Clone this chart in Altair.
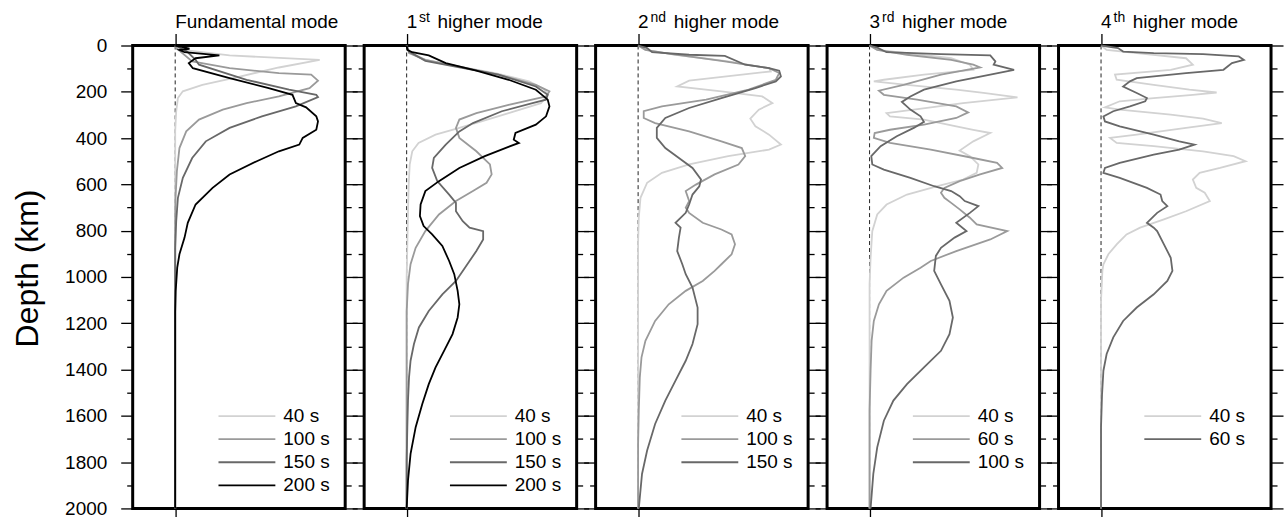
import altair as alt
import pandas as pd

FONT = "Liberation Sans"
LIGHT, MID, DARK, BLACK = "#d2d2d2", "#9a9a9a", "#686868", "#000000"

# ---------------- Fundamental mode ----------------
F40_D = [0, 19, 43, 62, 95, 134, 170, 198, 227, 284, 370, 2000]
F40_V = [0, 0.045, 0.32, 0.85, 0.61, 0.38, 0.16, 0.045, 0.016, 0.006, 0, 0]
F100_D = [0, 11, 69, 98, 119, 126, 152, 184, 220, 249, 277, 320, 371, 443, 543, 658, 800, 2000]
F100_V = [0, 0.006, 0.10, 0.32, 0.61, 0.80, 0.84, 0.79, 0.61, 0.42, 0.28, 0.14, 0.065, 0.025, 0.01, 0.002, 0, 0]
F150_D = [0, 26, 62, 83, 148, 191, 213, 223, 263, 306, 356, 414, 486, 572, 658, 759, 874, 2000]
F150_V = [0, 0.07, 0.12, 0.14, 0.42, 0.67, 0.83, 0.84, 0.71, 0.51, 0.32, 0.18, 0.10, 0.045, 0.016, 0.006, 0, 0]
F200_D = [0, 7, 14, 19, 29, 43, 55, 76, 98, 141, 184, 213, 249, 267, 306, 328, 364, 399, 428, 457,
          500, 557, 615, 687, 766, 830, 902, 960, 1060, 1150, 2000]
F200_V = [0, 0.045, 0.084, 0.025, 0.055, 0.26, 0.12, 0.08, 0.104, 0.32, 0.55, 0.69, 0.71, 0.77, 0.83, 0.84,
          0.83, 0.75, 0.73, 0.61, 0.48, 0.32, 0.22, 0.12, 0.074, 0.055, 0.025, 0.012, 0.003, 0, 0]

# ---------------- 1st higher mode ----------------
H1_40_D = [0, 26, 62, 91, 119, 155, 190, 213, 249, 292, 328, 356, 385, 421, 457, 514, 600, 720, 860, 1000, 2000]
H1_40_V = [0, 0.014, 0.11, 0.31, 0.52, 0.72, 0.81, 0.83, 0.79, 0.60, 0.44, 0.31, 0.17, 0.07, 0.033, 0.018,
           0.012, 0.008, 0.004, 0, 0]
H1_100_D = [0, 33, 62, 91, 126, 170, 198, 220, 256, 292, 320, 356, 399, 457, 514, 557, 593, 629, 672, 730,
            802, 874, 945, 1030, 1150, 2000]
H1_100_V = [0, 0.014, 0.11, 0.31, 0.54, 0.76, 0.84, 0.82, 0.60, 0.41, 0.31, 0.29, 0.31, 0.41, 0.49, 0.50,
            0.47, 0.39, 0.29, 0.19, 0.11, 0.053, 0.023, 0.008, 0, 0]
H1_150_D = [0, 26, 66, 95, 126, 177, 213, 234, 249, 284, 335, 371, 428, 486, 529, 586, 644, 680, 716, 759,
            787, 802, 838, 888, 931, 974, 1017, 1075, 1147, 1218, 1290, 1362, 1434, 1534, 1649, 1793, 2000]
H1_150_V = [0, 0.014, 0.11, 0.31, 0.54, 0.76, 0.83, 0.82, 0.74, 0.56, 0.39, 0.31, 0.23, 0.16, 0.15, 0.18,
            0.25, 0.29, 0.29, 0.33, 0.37, 0.45, 0.45, 0.41, 0.37, 0.33, 0.29, 0.21, 0.13, 0.072, 0.043, 0.023,
            0.014, 0.008, 0.004, 0, 0]
H1_200_D = [0, 19, 29, 43, 76, 109, 148, 191, 234, 263, 306, 342, 378, 407, 421, 443, 478, 529, 586, 629,
            687, 737, 780, 816, 866, 931, 988, 1060, 1118, 1175, 1247, 1319, 1391, 1463, 1549, 1649, 1764,
            1879, 2000]
H1_200_V = [0, 0.004, 0.033, 0.13, 0.23, 0.41, 0.60, 0.76, 0.83, 0.84, 0.82, 0.76, 0.64, 0.63, 0.66, 0.58,
            0.46, 0.31, 0.19, 0.11, 0.082, 0.078, 0.10, 0.15, 0.21, 0.25, 0.28, 0.30, 0.31, 0.30, 0.27, 0.22,
            0.17, 0.13, 0.092, 0.053, 0.023, 0.008, 0]

# ---------------- 2nd higher mode ----------------
H2_40_D = [0, 19, 40, 69, 98, 112, 152, 177, 198, 220, 249, 277, 316, 349, 385, 428, 450, 478, 514, 550,
           593, 658, 744, 850, 2000]
H2_40_V = [0, 0.043, 0.22, 0.53, 0.77, 0.78, 0.30, 0.23, 0.49, 0.73, 0.79, 0.71, 0.66, 0.69, 0.77, 0.84,
           0.77, 0.53, 0.30, 0.14, 0.053, 0.014, 0.004, 0, 0]
H2_100_D = [0, 19, 37, 66, 98, 119, 148, 191, 234, 263, 284, 313, 335, 371, 414, 443, 478, 514, 557, 601,
            629, 672, 701, 723, 766, 795, 816, 859, 902, 945, 974, 1017, 1060, 1118, 1190, 1276, 1347, 1434,
            1578, 1721, 2000]
H2_100_V = [0, 0.043, 0.20, 0.49, 0.77, 0.83, 0.81, 0.65, 0.40, 0.14, 0.033, 0.033, 0.10, 0.30, 0.49, 0.61,
            0.63, 0.59, 0.45, 0.34, 0.28, 0.30, 0.28, 0.30, 0.38, 0.49, 0.55, 0.57, 0.55, 0.49, 0.45, 0.38,
            0.28, 0.18, 0.10, 0.043, 0.02, 0.01, 0.004, 0, 0]
H2_150_D = [0, 11, 29, 40, 45, 83, 98, 109, 134, 155, 184, 227, 270, 313, 356, 399, 443, 486, 529, 579,
            608, 644, 687, 723, 766, 787, 830, 888, 945, 988, 1046, 1132, 1204, 1290, 1362, 1448, 1534, 1635,
            1750, 1851, 2000]
H2_150_V = [0, 0.053, 0.082, 0.30, 0.51, 0.63, 0.77, 0.83, 0.84, 0.81, 0.69, 0.49, 0.30, 0.16, 0.11, 0.11,
            0.16, 0.24, 0.32, 0.37, 0.36, 0.32, 0.30, 0.28, 0.22, 0.25, 0.24, 0.23, 0.26, 0.28, 0.32, 0.35,
            0.35, 0.32, 0.28, 0.22, 0.16, 0.10, 0.053, 0.023, 0.004]

# ---------------- 3rd higher mode ----------------
H3_40_D = [0, 19, 33, 55, 83, 105, 126, 148, 155, 170, 191, 205, 224, 249, 277, 292, 306, 320, 349, 364,
           378, 414, 454, 478, 514, 550, 579, 608, 644, 687, 730, 802, 917, 1032, 2000]
H3_40_V = [0, 0.045, 0.22, 0.48, 0.59, 0.61, 0.32, 0.084, 0.025, 0.22, 0.51, 0.67, 0.87, 0.55, 0.26, 0.10,
           0.12, 0.32, 0.51, 0.61, 0.71, 0.61, 0.53, 0.59, 0.64, 0.63, 0.55, 0.40, 0.22, 0.10, 0.045, 0.016,
           0.006, 0, 0]
H3_60_D = [0, 19, 40, 62, 83, 95, 126, 170, 195, 213, 234, 263, 289, 313, 342, 364, 378, 399, 421, 450,
           486, 507, 529, 557, 586, 615, 636, 658, 680, 708, 744, 773, 802, 838, 888, 931, 960, 1003, 1060,
           1118, 1190, 1276, 1405, 1578, 2000]
H3_60_V = [0, 0.045, 0.22, 0.48, 0.61, 0.65, 0.42, 0.20, 0.055, 0.084, 0.28, 0.51, 0.58, 0.51, 0.32, 0.12,
           0.03, 0.025, 0.12, 0.36, 0.61, 0.75, 0.78, 0.65, 0.53, 0.44, 0.42, 0.44, 0.48, 0.53, 0.59, 0.63,
           0.81, 0.71, 0.51, 0.36, 0.30, 0.20, 0.10, 0.055, 0.025, 0.012, 0.006, 0, 0]
H3_100_D = [0, 9, 29, 37, 43, 69, 83, 105, 126, 155, 191, 220, 244, 277, 306, 330, 356, 392, 435, 478,
            514, 536, 572, 608, 629, 651, 672, 694, 723, 766, 802, 830, 874, 909, 974, 1032, 1103, 1175,
            1247, 1319, 1391, 1463, 1534, 1621, 1736, 1851, 2000]
H3_100_V = [0, 0.045, 0.10, 0.42, 0.71, 0.74, 0.73, 0.85, 0.71, 0.51, 0.32, 0.24, 0.19, 0.24, 0.30, 0.32,
            0.26, 0.16, 0.065, 0.01, 0.016, 0.084, 0.24, 0.38, 0.48, 0.53, 0.56, 0.64, 0.59, 0.51, 0.57,
            0.50, 0.42, 0.39, 0.38, 0.42, 0.47, 0.49, 0.47, 0.42, 0.32, 0.22, 0.14, 0.084, 0.045, 0.022,
            0.006]

# ---------------- 4th higher mode ----------------
H4_40_D = [0, 19, 33, 55, 83, 105, 126, 148, 170, 191, 203, 213, 227, 241, 267, 277, 299, 316, 335, 356,
           385, 399, 421, 435, 457, 478, 500, 529, 550, 579, 615, 636, 672, 716, 751, 787, 816, 859, 902,
           945, 974, 1100, 2000]
H4_40_V = [0, 0.033, 0.21, 0.50, 0.54, 0.41, 0.082, 0.092, 0.31, 0.52, 0.68, 0.54, 0.31, 0.11, 0.023, 0.11,
           0.41, 0.60, 0.71, 0.50, 0.21, 0.053, 0.092, 0.31, 0.60, 0.78, 0.85, 0.70, 0.58, 0.54, 0.56, 0.61,
           0.64, 0.50, 0.37, 0.23, 0.15, 0.092, 0.043, 0.014, 0.008, 0, 0]
H4_60_D = [0, 11, 26, 33, 37, 47, 62, 76, 105, 119, 141, 155, 177, 205, 227, 241, 263, 284, 306, 328,
           349, 385, 414, 428, 450, 471, 507, 529, 550, 572, 615, 644, 672, 694, 723, 766, 787, 802, 859,
           917, 974, 1017, 1075, 1132, 1190, 1261, 1333, 1405, 1506, 1649, 2000]
H4_60_V = [0, 0.10, 0.13, 0.31, 0.60, 0.81, 0.84, 0.77, 0.72, 0.50, 0.21, 0.17, 0.13, 0.21, 0.27, 0.26,
           0.17, 0.072, 0.014, 0.023, 0.11, 0.31, 0.46, 0.55, 0.46, 0.31, 0.11, 0.023, 0.014, 0.11, 0.27,
           0.35, 0.36, 0.39, 0.33, 0.27, 0.31, 0.33, 0.37, 0.41, 0.42, 0.39, 0.31, 0.21, 0.13, 0.072, 0.033,
           0.014, 0.006, 0, 0]

PANELS = [
    (("Fundamental mode", "", ""),
     [("40 s", F40_D, F40_V), ("100 s", F100_D, F100_V), ("150 s", F150_D, F150_V), ("200 s", F200_D, F200_V)],
     [LIGHT, MID, DARK, BLACK]),
    (("1", "st", "higher mode"),
     [("40 s", H1_40_D, H1_40_V), ("100 s", H1_100_D, H1_100_V), ("150 s", H1_150_D, H1_150_V),
      ("200 s", H1_200_D, H1_200_V)],
     [LIGHT, MID, DARK, BLACK]),
    (("2", "nd", "higher mode"),
     [("40 s", H2_40_D, H2_40_V), ("100 s", H2_100_D, H2_100_V), ("150 s", H2_150_D, H2_150_V)],
     [LIGHT, MID, DARK]),
    (("3", "rd", "higher mode"),
     [("40 s", H3_40_D, H3_40_V), ("60 s", H3_60_D, H3_60_V), ("100 s", H3_100_D, H3_100_V)],
     [LIGHT, MID, DARK]),
    (("4", "th", "higher mode"),
     [("40 s", H4_40_D, H4_40_V), ("60 s", H4_60_D, H4_60_V)],
     [LIGHT, DARK]),
]

# approximate advance widths (em) of the superscript suffixes, for placing the rest of each title
SUP_EM = {"st": 0.778, "nd": 1.112, "rd": 0.889, "th": 0.834}

TICK_VALUES = list(range(0, 2001, 100))
TICK_SIZE = {"condition": {"test": "datum.value % 200 === 0", "value": 12}, "value": 6}
W, H = 213, 464
SUP_SIZE = 14


def curves_df(items):
    rows = []
    for label, D, V in items:
        assert len(D) == len(V), (label, len(D), len(V))
        for i, (d, v) in enumerate(zip(D, V)):
            rows.append({"period": label, "depth": d, "value": v, "i": i})
    return pd.DataFrame(rows)


def make_panel(idx, title, items, colors):
    first = idx == 0
    xscale = alt.Scale(domain=[-0.25, 1.0], nice=False, zero=False)
    yscale = alt.Scale(domain=[0, 2000], reverse=True, nice=False, zero=False)
    tick_common = dict(tickColor="black", tickWidth=1.3, domain=False, grid=False)

    left_kw = dict(orient="left", values=TICK_VALUES, tickSize=TICK_SIZE, labels=first,
                   labelExpr="datum.value % 200 === 0 ? '' + datum.value : ''",
                   labelFont=FONT, labelFontSize=19, labelColor="black", labelPadding=14,
                   labelFlush=False, labelOverlap=False, **tick_common)
    if first:
        left_kw.update(title="Depth (km)", titleFont=FONT, titleFontSize=32, titleFontWeight="normal",
                       titleColor="black", titleX=-88, titleY=223, titleAngle=270,
                       titleAlign="center", titleBaseline="bottom")
    else:
        left_kw.update(title=None)
    left_axis = alt.Axis(**left_kw)
    right_axis = alt.Axis(orient="right", values=TICK_VALUES, tickSize=TICK_SIZE, labels=False,
                          title=None, **tick_common)
    bottom_axis = alt.Axis(orient="bottom", values=[0], tickSize=12, labels=False, title=None, **tick_common)
    top_axis = alt.Axis(orient="top", values=[0], tickSize=12, labels=False, title=None, **tick_common)

    zero_df = pd.DataFrame({"value": [0, 0], "depth": [0, 2000], "i": [0, 1]})
    zero = alt.Chart(zero_df).mark_line(strokeDash=[4, 3], color="#222222", strokeWidth=1).encode(
        x=alt.X("value:Q", scale=xscale, axis=top_axis),
        y=alt.Y("depth:Q", scale=yscale, axis=right_axis),
        order="i:Q",
    )

    df = curves_df(items)
    labels = [it[0] for it in items]
    lines = alt.Chart(df).mark_line(strokeWidth=1.8).encode(
        x=alt.X("value:Q", scale=xscale, axis=bottom_axis),
        y=alt.Y("depth:Q", scale=yscale, axis=left_axis),
        color=alt.Color("period:N", scale=alt.Scale(domain=labels, range=colors),
                        legend=alt.Legend(orient="none", legendX=85, legendY=362, title=None,
                                          symbolType="stroke", symbolSize=3249, symbolStrokeWidth=1.8,
                                          clipHeight=19, labelFont=FONT, labelFontSize=19,
                                          labelColor="black", labelOffset=7, rowPadding=3.1, padding=0)),
        detail="period:N",
        order="i:Q",
    )

    main, sup, rest = title
    tdf = pd.DataFrame({"value": [0], "main": [main], "sup": [sup], "rest": [rest]})
    tx = alt.X("value:Q", scale=xscale, axis=None)
    layers = [zero, lines,
              alt.Chart(tdf).mark_text(align="left", baseline="alphabetic", font=FONT, fontSize=19,
                                       color="black").encode(x=tx, y=alt.value(-17.5), text="main:N")]
    if sup:
        sup_dx = 12.5
        rest_dx = sup_dx + SUP_EM[sup] * SUP_SIZE + 7.6
        layers.append(alt.Chart(tdf).mark_text(align="left", baseline="alphabetic", font=FONT,
                                               fontSize=SUP_SIZE, dx=sup_dx, color="black").encode(
            x=tx, y=alt.value(-24), text="sup:N"))
        layers.append(alt.Chart(tdf).mark_text(align="left", baseline="alphabetic", font=FONT, fontSize=19,
                                               dx=rest_dx, color="black").encode(
            x=tx, y=alt.value(-17.5), text="rest:N"))
    return alt.layer(*layers).resolve_axis(x="independent", y="independent").properties(width=W, height=H)


panels = [make_panel(i, *p) for i, p in enumerate(PANELS)]

chart = alt.hconcat(*panels, spacing=19, bounds="flush").resolve_scale(color="independent").configure_view(
    stroke="black", strokeWidth=3
).properties(padding={"left": 10, "top": 8, "right": 0, "bottom": 0}, background="white")

chart.save("out.html", embed_options={"renderer": "svg", "actions": False})
